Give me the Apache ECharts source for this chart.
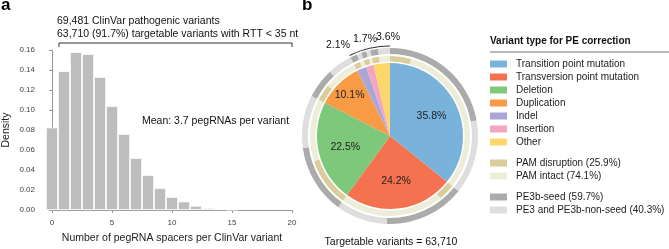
<!DOCTYPE html>
<html>
<head>
<meta charset="utf-8">
<script src="https://cdn.jsdelivr.net/npm/echarts@6/dist/echarts.min.js"></script>
<style>
  html, body { margin: 0; padding: 0; background: #fff; }
  #chart { width: 669px; height: 249px; }
</style>
</head>
<body>
<div id="chart"></div>
<script>
// panel a: histogram of pegRNA spacers per variant
const spacerCounts = [0, 1, 2, 3, 4, 5, 6, 7, 8, 9, 10, 11, 12, 13, 14, 15];
const density = [0.0825, 0.139, 0.158, 0.156, 0.133, 0.104, 0.076, 0.052, 0.035, 0.022, 0.013, 0.0085, 0.0042, 0.002, 0.001, 0.0004];

// panel b: variant types
const categories = ['Transition point mutation', 'Transversion point mutation', 'Deletion', 'Duplication', 'Indel', 'Insertion', 'Other'];
const shares = [35.8, 24.2, 22.5, 10.1, 2.1, 1.7, 3.6];
const typeColors = ['#79b3db', '#f4724f', '#7dc87a', '#f99a45', '#a9a6d6', '#f4a6c1', '#fdd76a'];
const pamFrac = [0.12, 0.14, 0.44, 0.33, 0.6, 0.65, 0.4];
const seedFrac = [0.62, 0.61, 0.57, 0.55, 0.6, 0.55, 0.4];
const pamNames = ['PAM disruption (25.9%)', 'PAM intact (74.1%)'];
const seedNames = ['PE3b-seed (59.7%)', 'PE3 and PE3b-non-seed (40.3%)'];
const pamColors = ['#d9cd9b', '#ededd9'];
const seedColors = ['#ababab', '#dedede'];

const FONT = '"Liberation Sans", Arial, sans-serif';
const cx = 390, cy = 136;

let chart = echarts.init(document.getElementById('chart'));

// split every slice in two for the rings
function ring(frac, names, colors) {
  let out = [];
  shares.forEach(function (s, i) {
    out.push({ name: names[0], value: s * frac[i], itemStyle: { color: colors[0] } });
    out.push({ name: names[1], value: s * (1 - frac[i]), itemStyle: { color: colors[1] } });
  });
  return out;
}

const pieBase = {
  type: 'pie',
  center: [cx, cy],
  startAngle: 90,
  silent: true,
  avoidLabelOverlap: false,
  label: { show: false },
  labelLine: { show: false },
  emphasis: { disabled: true }
};

const legendBase = {
  orient: 'vertical',
  left: 490,
  padding: 0,
  icon: 'rect',
  itemWidth: 17,
  itemHeight: 7,
  itemGap: 0,
  selectedMode: false,
  textStyle: { fontSize: 10, fontFamily: FONT, color: '#222', lineHeight: 13, padding: [0, 0, 0, 4] }
};

const small = [4, 5, 6];
const smallLabelPos = [[338, 45], [365, 39], [388, 37]];

chart.setOption({
  animation: false,
  textStyle: { fontFamily: FONT },
  title: [
    { text: 'a', left: 1, top: -3, padding: 0, textStyle: { fontSize: 17, fontWeight: 'bold', color: '#000', fontFamily: FONT } },
    { text: 'b', left: 302, top: -3, padding: 0, textStyle: { fontSize: 17, fontWeight: 'bold', color: '#000', fontFamily: FONT } },
    { text: 'Variant type for PE correction', left: 490, top: 36, padding: 0, textStyle: { fontSize: 10, fontWeight: 'bold', color: '#111', fontFamily: FONT } }
  ],
  grid: { left: 52, right: 377, top: 50, bottom: 36 },
  xAxis: {
    type: 'value',
    min: 0,
    max: 20,
    interval: 5,
    offset: 5,
    name: 'Number of pegRNA spacers per ClinVar variant',
    nameLocation: 'middle',
    nameGap: 18,
    nameTextStyle: { fontSize: 10.5, color: '#222' },
    axisLine: { lineStyle: { color: '#999' } },
    axisTick: { length: 3, lineStyle: { color: '#999' } },
    axisLabel: { fontSize: 8, color: '#444', margin: 4 },
    splitLine: { show: false }
  },
  yAxis: {
    type: 'value',
    min: 0,
    max: 0.16,
    interval: 0.02,
    offset: 12,
    name: 'Density',
    nameLocation: 'middle',
    nameRotate: 90,
    nameGap: 28,
    nameTextStyle: { fontSize: 10.5, color: '#222' },
    axisLine: { show: true, lineStyle: { color: '#999' } },
    axisTick: { show: true, length: 3, lineStyle: { color: '#999' } },
    axisLabel: { fontSize: 8, color: '#444', margin: 5, formatter: function (v) { return v.toFixed(2); } },
    splitLine: { show: false }
  },
  legend: [
    Object.assign({}, legendBase, { top: 57.5, data: categories }),
    Object.assign({}, legendBase, { top: 156.5, data: pamNames }),
    Object.assign({}, legendBase, { top: 190.5, data: seedNames })
  ],
  series: [
    {
      type: 'bar',
      data: spacerCounts.map(function (c, i) { return [c, density[i]]; }),
      barWidth: 12,
      clip: false,
      silent: true,
      itemStyle: { color: '#bdbdbd', borderColor: '#fff', borderWidth: 0.8 }
    },
    Object.assign({}, pieBase, {
      radius: [0, 73],
      data: categories.map(function (c, i) {
        return { name: c, value: shares[i], itemStyle: { color: typeColors[i] } };
      })
    }),
    Object.assign({}, pieBase, { radius: [74.5, 80], data: ring(pamFrac, pamNames, pamColors) }),
    Object.assign({}, pieBase, { radius: [82, 88], data: ring(seedFrac, seedNames, seedColors) }),
    // bracket arc over the small slices
    Object.assign({}, pieBase, {
      radius: [89.6, 90.5],
      data: shares.map(function (s, i) {
        return { name: 'arc' + i, value: s, itemStyle: { color: small.indexOf(i) >= 0 ? '#333' : 'rgba(0,0,0,0)' } };
      })
    }),
    // percentage labels of the large slices
    Object.assign({}, pieBase, {
      radius: [0, 86],
      z: 5,
      data: shares.map(function (s, i) {
        return {
          name: 'lbl' + i,
          value: s,
          itemStyle: { color: 'rgba(0,0,0,0)' },
          label: { show: small.indexOf(i) < 0 }
        };
      }),
      label: {
        show: true,
        position: 'inside',
        formatter: function (p) { return shares[p.dataIndex].toFixed(1) + '%'; },
        fontSize: 10.5,
        color: '#222',
        fontFamily: FONT
      },
      labelLayout: function (p) {
        if (p.dataIndex === 3) return { dx: -8, dy: -8 };
        return {};
      }
    })
  ],
  graphic: [
    { type: 'text', style: { text: '69,481 ClinVar pathogenic variants', x: 57, y: 21, font: '10.5px ' + FONT, fill: '#111', verticalAlign: 'middle', textVerticalAlign: 'middle' } },
    { type: 'text', style: { text: '63,710 (91.7%) targetable variants with RTT < 35 nt', x: 57, y: 34, font: '10.5px ' + FONT, fill: '#111', verticalAlign: 'middle', textVerticalAlign: 'middle' } },
    { type: 'polyline', shape: { points: [[59, 47], [59, 43], [292, 43], [292, 47]] }, style: { stroke: '#333', lineWidth: 1, fill: null } },
    { type: 'text', style: { text: 'Mean: 3.7 pegRNAs per variant', x: 142, y: 121, font: '10.5px ' + FONT, fill: '#111', verticalAlign: 'middle', textVerticalAlign: 'middle' } },
    { type: 'text', style: { text: 'Targetable variants = 63,710', x: 391, y: 242, font: '10.5px ' + FONT, fill: '#111', align: 'center', textAlign: 'center', verticalAlign: 'middle', textVerticalAlign: 'middle' } },
    { type: 'line', shape: { x1: 490, y1: 52, x2: 669, y2: 52 }, style: { stroke: '#a0a0a0', lineWidth: 1.5 } }
  ].concat(small.map(function (idx, k) {
    return { type: 'text', style: { text: shares[idx].toFixed(1) + '%', x: smallLabelPos[k][0], y: smallLabelPos[k][1], font: '10.5px ' + FONT, fill: '#111', align: 'center', textAlign: 'center', verticalAlign: 'middle', textVerticalAlign: 'middle' } };
  }))
});
</script>
</body>
</html>
